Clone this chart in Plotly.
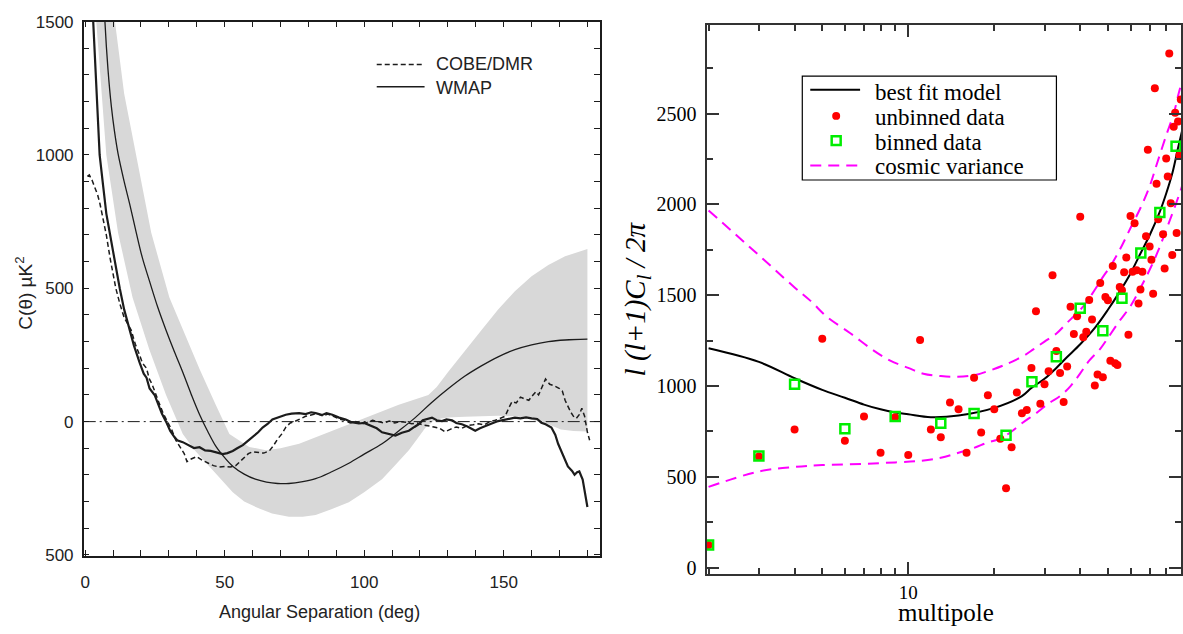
import plotly.graph_objects as go

# ---------------- Left panel: two-point angular correlation C(theta) ----------------
theta_wmap = [0.5, 1.5, 2.9, 4.0, 5.2, 6.5, 7.6, 9.3, 11.0, 12.4, 14.0, 16.0, 17.5, 19.5, 21.0, 22.0,
              23.1, 24.9, 26.0, 27.5, 29.0, 30.5, 32.0, 33.0, 35.0, 37.0, 39.0, 41.0, 43.0, 45.0,
              47.0, 49.3, 51.0, 52.9, 54.5, 56.5, 58.0, 60.0, 62.0, 63.6, 65.5, 67.1, 69.0, 71.9,
              74.0, 76.7, 79.0, 81.0, 82.6, 85.0, 86.5, 88.6, 91.0, 93.4, 95.5, 98.1, 100.0, 102.9,
              104.5, 106.4, 108.5, 111.2, 113.5, 116.0, 118.0, 119.5, 121.0, 122.5, 124.3, 126.0,
              127.9, 129.5, 131.5, 133.0, 135.0, 137.0, 139.8, 141.5, 143.3, 145.5, 148.0, 151.0,
              154.0, 156.0, 158.0, 160.0, 162.0, 163.5, 165.0, 167.1, 168.5, 169.5, 171.0, 173.0,
              174.5, 175.4, 176.3, 177.1, 178.3, 179.2, 180.0]
c_wmap = [2400, 1950, 1500, 1250, 1000, 880, 780, 680, 580, 500, 420, 343, 285, 222, 180, 165,
          124, 100, 70, 30, 0, -35, -58, -70, -77, -88, -99, -96, -108, -110,
          -115, -122, -118, -110, -100, -88, -75, -58, -40, -22, -8, 8, 15, 26,
          30, 32, 28, 35, 32, 25, 32, 26, 15, 8, -2, -7, -5, -16,
          -25, -40, -45, -52, -42, -34, -20, -10, 5, 10, 15, 5,
          2, 8, 5, -5, -10, -18, -34, -25, -16, -8, 2, 8,
          15, 12, 16, 12, 10, -4, -10, -22, -50, -83, -120, -168,
          -185, -199, -190, -187, -217, -270, -320]

theta_cobe = [0.8, 1.5, 2.5, 3.5, 4.5, 5.3, 6.5, 7.6, 9.0, 10.0, 11.0, 12.5, 14.0, 16.5, 18.0, 19.5,
              20.5, 22.0, 23.0, 24.0, 25.0, 26.5, 28.0, 29.5, 31.0, 32.5, 34.0, 35.5, 36.5, 38.0,
              40.0, 42.0, 44.0, 46.0, 48.0, 50.0, 52.0, 54.0, 55.5, 57.0, 58.5, 60.0, 62.0, 64.0,
              66.0, 67.5, 69.0, 70.5, 72.0, 73.5, 75.0, 77.0, 79.0, 81.0, 83.0, 85.0, 87.0, 89.0,
              91.0, 93.0, 95.0, 97.0, 99.0, 101.0, 103.0, 105.0, 107.0, 109.0, 111.0, 113.0, 115.0,
              117.0, 119.0, 121.0, 123.0, 125.0, 127.0, 129.0, 131.0, 133.0, 135.0, 137.0, 139.0,
              141.0, 143.0, 145.0, 147.0, 149.0, 150.5, 152.0, 153.0, 154.5, 156.0, 157.5, 159.0,
              160.5, 161.5, 162.5, 163.5, 165.0, 166.5, 168.0, 170.0, 171.0, 172.0, 173.0, 174.0,
              175.0, 176.0, 177.0, 178.0, 179.0, 180.0, 180.8]
c_cobe = [920, 925, 905, 880, 850, 818, 760, 700, 610, 560, 500, 440, 390, 343, 290, 250,
          220, 200, 160, 140, 110, 70, 30, 0, -30, -70, -95, -120, -150, -140,
          -131, -145, -155, -165, -170, -168, -170, -165, -150, -135, -120, -113, -115, -118,
          -110, -90, -65, -46, -20, -5, 0, 10, 20, 25, 30, 22, 28, 20,
          10, 5, -5, 0, -8, -3, 5, 0, -5, 2, -5, 0, -2,
          -8, -5, -12, -15, -20, -25, -38, -28, -20, -25, -15, -12,
          -8, -12, 0, 5, 15, 20, 55, 75, 70, 92, 85, 80,
          100, 112, 100, 125, 160, 140, 135, 124, 115, 80, 55, 36,
          20, 12, 25, 50, 20, -40, -70]

theta_model = [5.0, 6.0, 7.1, 8.2, 9.4, 10.5, 11.8, 14.0, 16.0, 18.3, 20.5, 23.1, 26.0, 29.0, 32.0,
               35.0, 38.0, 41.0, 44.0, 47.0, 50.0, 53.0, 57.0, 61.0, 65.0, 69.0, 73.0, 78.0, 82.6,
               88.0, 94.5, 100.0, 106.4, 112.0, 118.3, 124.0, 130.2, 136.0, 142.0, 148.0, 154.0,
               160.0, 166.0, 172.0, 180.0]
c_model = [2100, 1800, 1500, 1320, 1182, 1090, 1005, 900, 815, 710, 615, 526, 430, 343, 262,
           185, 103, 27, -38, -95, -135, -168, -197, -216, -227, -232, -232, -225, -214,
           -190, -156, -122, -83, -38, 15, 70, 124, 170, 209, 243, 270,
           288, 300, 306, 309]

# shaded range around the model
theta_band_hi = [1.0, 4.0, 7.0, 10.7, 14.0, 18.3, 23.7, 30.2, 35.0, 41.0, 46.8, 51.7, 58.8, 64.8,
                 70.0, 76.7, 88.6, 100.4, 112.4, 123.0, 126.0, 130.0, 136.0, 142.0, 148.0, 154.0,
                 160.0, 166.0, 172.0, 180.0]
c_band_hi = [2600, 2100, 1850, 1500, 1230, 1000, 708, 465, 343, 197, 63, -46, -95, -107,
             -100, -83, -34, 15, 63, 100, 130, 185, 265, 343, 420, 489,
             545, 587, 620, 647]
theta_band_lo = [2.0, 4.0, 7.6, 11.8, 17.0, 23.0, 29.0, 35.0, 39.5, 44.5, 52.9, 57.0, 62.4, 67.0,
                 73.0, 78.0, 82.6, 88.0, 94.5, 100.0, 106.4, 111.0, 116.0, 119.0, 122.0, 125.5,
                 130.0, 136.0, 142.0, 148.0, 154.0, 157.6, 162.0, 166.0, 170.5, 175.0, 180.0]
c_band_lo = [2000, 1500, 1000, 708, 465, 270, 100, -46, -110, -168, -265, -300, -326, -345,
             -357, -357, -350, -330, -302, -265, -216, -165, -107, -65, -22, 8,
             15, 18, 20, 22, 20, 15, 0, -10, -30, -35, -37]

zero_level = 0

theta_major = [0, 50, 100, 150]
theta_minor = [t for t in range(10, 181, 10) if t % 50 != 0]
corr_major = [-500, 0, 500, 1000, 1500]
corr_major_text = ["500", "0", "500", "1000", "1500"]
corr_minor = [v for v in range(-400, 1500, 100) if v % 500 != 0]

# ---------------- Right panel: angular power spectrum ----------------
ell_unbinned = [2, 3, 4, 5, 6, 7, 8, 9, 10, 11, 12, 13, 14, 15, 16, 17, 18, 19, 20,
                21, 22, 23, 24, 25, 26, 27, 28, 29, 30, 31, 32, 33, 34, 35, 36, 37, 38, 39, 40,
                41, 42, 43, 44, 45, 46, 47, 48, 49, 50, 51, 52, 53, 54, 55, 56, 57, 58, 59, 60,
                61, 62, 63, 64, 65, 66, 68, 69, 70, 71, 72, 73, 74, 75, 78, 79, 80, 81, 82, 83,
                84, 85, 86, 87, 88, 89, 90]
cl_unbinned = [125, 613, 761, 1260, 699, 832, 633, 829, 620, 1253, 761, 718, 909, 873, 633, 1046, 745, 950, 873,
               710, 437, 663, 965, 851, 869, 1100, 1412, 903, 1010, 1081, 1610, 1193, 1072, 913, 1108, 1437, 1286, 1384, 1932,
               1269, 1299, 1474, 1367, 1003, 1064, 1568, 1048, 1490, 1473, 1140, 1661, 1125, 1116, 1546, 1528, 1627, 1708, 1282, 1936,
               1629, 1896, 1638, 1455, 1531, 1630, 1825, 2301, 1768, 1695, 1508, 2639, 2114, 1918, 1836, 1647, 2253, 2153, 2831, 2007,
               1722, 2427, 2505, 1843, 2457, 2270, 2577]

ell_binned = [2, 3, 4, 6, 9, 13, 17, 22, 27.1, 33, 40, 48, 56, 65.2, 76, 86.6]
cl_binned = [125, 615, 1010, 765, 832, 796, 849, 730, 1024, 1161, 1428, 1305, 1483, 1733, 1955, 2320]

ell_fit = [2, 3, 4, 5, 6, 7, 8, 9, 10, 12, 15, 20, 25, 27, 30, 33, 36, 40, 45, 50, 55, 60, 65, 70,
           76, 80, 84, 88, 92]
cl_fit = [1208, 1133, 1043, 979, 936, 898, 872, 855, 845, 829, 838, 880, 945, 990, 1040, 1100, 1160,
          1230, 1320, 1420, 1520, 1620, 1730, 1830, 1960, 2060, 2170, 2310, 2440]

ell_cv_hi = [2, 3, 4, 4.55, 5.2, 6.27, 7.5, 8.65, 10, 11.3, 13, 14.8, 17, 19.3, 21.5, 25.3, 27.4, 30,
             33.1, 35.8, 39.8, 42, 45, 48, 51, 55, 60, 65, 70, 74, 80, 85, 89, 92]
cv_upper = [1967, 1720, 1543, 1469, 1380, 1291, 1200, 1140, 1100, 1068, 1055, 1051, 1060, 1086, 1113,
            1166, 1202, 1245, 1291, 1345, 1416, 1460, 1530, 1600, 1660, 1750, 1870, 1980, 2100, 2217,
            2380, 2500, 2627, 2700]
ell_cv_lo = [2, 3, 4, 5, 7, 9, 11, 13, 15, 17, 19, 21, 23, 25, 28, 31, 34, 37, 40, 43, 47, 50, 55,
             60, 65, 70, 75, 80, 85, 90, 92]
cv_lower = [445, 530, 555, 565, 572, 580, 588, 605, 633, 660, 690, 710, 750, 795, 850, 905, 945, 1000,
            1070, 1140, 1205, 1265, 1360, 1440, 1540, 1640, 1745, 1860, 1970, 2080, 2130]

ell_major = [10]
ell_minor = [2, 3, 4, 5, 6, 7, 8, 9, 20, 30, 40, 50, 60, 70, 80, 90]
power_major = [0, 500, 1000, 1500, 2000, 2500]
power_minor = [250, 750, 1250, 1750, 2250, 2750]

# ---------------- page geometry helpers (pixels -> paper) ----------------
W, H = 1183, 634


def px(x):
    return x / W


def py(y):
    return 1 - y / H


INK = "#1c1c1c"
TXT = "#222222"
SANS = "Liberation Sans Narrow, Liberation Sans, Arial, sans-serif"
SERIF = "Liberation Serif, Times New Roman, serif"
BAND = "#d8d8d8"
MAGENTA = "#ff00ff"
RED = "#ff0000"
GREEN = "#00ee00"

fig = go.Figure()

# shaded band (lower edge, then upper edge filled down to it)
fig.add_trace(go.Scatter(x=theta_band_lo, y=c_band_lo, mode="lines", line=dict(width=0, color=BAND),
                         xaxis="x", yaxis="y", showlegend=False, hoverinfo="skip"))
fig.add_trace(go.Scatter(x=theta_band_hi, y=c_band_hi, mode="lines", line=dict(width=0, color=BAND),
                         fill="tonexty", fillcolor=BAND, xaxis="x", yaxis="y", showlegend=False,
                         hoverinfo="skip"))
fig.add_trace(go.Scatter(x=theta_model, y=c_model, mode="lines", line=dict(color=INK, width=1.3, shape="spline"),
                         xaxis="x", yaxis="y", showlegend=False))
fig.add_trace(go.Scatter(x=theta_cobe, y=c_cobe, mode="lines", name="COBE/DMR",
                         line=dict(color=INK, width=1.5, dash="5px,3px"), xaxis="x", yaxis="y",
                         showlegend=False))
fig.add_trace(go.Scatter(x=theta_wmap, y=c_wmap, mode="lines", name="WMAP",
                         line=dict(color=INK, width=2.2), xaxis="x", yaxis="y", showlegend=False))

# right panel traces
fig.add_trace(go.Scatter(x=ell_cv_hi, y=cv_upper, mode="lines", name="cosmic variance",
                         line=dict(color=MAGENTA, width=2, dash="11px,7px", shape="spline"),
                         xaxis="x2", yaxis="y2", showlegend=False))
fig.add_trace(go.Scatter(x=ell_cv_lo, y=cv_lower, mode="lines",
                         line=dict(color=MAGENTA, width=2, dash="11px,7px", shape="spline"),
                         xaxis="x2", yaxis="y2", showlegend=False))
fig.add_trace(go.Scatter(x=ell_fit, y=cl_fit, mode="lines", name="best fit model",
                         line=dict(color="black", width=2, shape="spline"),
                         xaxis="x2", yaxis="y2", showlegend=False))
fig.add_trace(go.Scatter(x=ell_unbinned, y=cl_unbinned, mode="markers", name="unbinned data",
                         marker=dict(symbol="circle", size=8, color=RED, line=dict(width=0)),
                         xaxis="x2", yaxis="y2", showlegend=False))
fig.add_trace(go.Scatter(x=ell_binned, y=cl_binned, mode="markers", name="binned data",
                         marker=dict(symbol="square-open", size=9, color=GREEN, line=dict(width=2.5, color=GREEN)),
                         xaxis="x2", yaxis="y2", showlegend=False))

shapes = [
    # zero reference line of the correlation panel
    dict(type="line", xref="x domain", yref="y", x0=0, x1=1, y0=zero_level, y1=zero_level,
         line=dict(color=INK, width=1, dash="12px,4px,2px,4px"), layer="above"),
    # left legend samples
    dict(type="line", xref="paper", yref="paper", x0=px(375), x1=px(423), y0=py(57), y1=py(57),
         line=dict(color=INK, width=1.5, dash="5px,3px")),
    dict(type="line", xref="paper", yref="paper", x0=px(375), x1=px(423), y0=py(80), y1=py(80),
         line=dict(color=INK, width=1.5)),
    # right legend box and samples
    dict(type="rect", xref="paper", yref="paper", x0=px(802), x1=px(1057), y0=py(69), y1=py(176),
         line=dict(color="black", width=1.2), fillcolor="white", layer="above"),
    dict(type="line", xref="paper", yref="paper", x0=px(810), x1=px(860), y0=py(83), y1=py(83),
         line=dict(color="black", width=2), layer="above"),
    dict(type="circle", xref="paper", yref="paper", x0=px(832), x1=px(840), y0=py(106), y1=py(114),
         line=dict(color=RED, width=0), fillcolor=RED, layer="above"),
    dict(type="rect", xref="paper", yref="paper", x0=px(831.5), x1=px(840.5), y0=py(131), y1=py(140),
         line=dict(color=GREEN, width=2.5), fillcolor="rgba(0,0,0,0)", layer="above"),
    dict(type="line", xref="paper", yref="paper", x0=px(810), x1=px(860), y0=py(161), y1=py(161),
         line=dict(color=MAGENTA, width=2, dash="11px,7px"), layer="above"),
]

annotations = [
    dict(text="C(θ) µK<sup>2</sup>", xref="paper", yref="paper", x=px(21), y=py(292), textangle=-90,
         showarrow=False, font=dict(family=SANS, size=19, color=TXT), xanchor="center", yanchor="middle"),
    dict(text="Angular Separation (deg)", xref="paper", yref="paper", x=px(318), y=py(621),
         showarrow=False, font=dict(family=SANS, size=18, color=TXT), xanchor="center", yanchor="middle"),
    dict(text="COBE/DMR", xref="paper", yref="paper", x=px(432), y=py(57), showarrow=False,
         font=dict(family=SANS, size=18, color=TXT), xanchor="left", yanchor="middle"),
    dict(text="WMAP", xref="paper", yref="paper", x=px(432), y=py(81), showarrow=False,
         font=dict(family=SANS, size=18, color=TXT), xanchor="left", yanchor="middle"),
    dict(text="<i>l (l+1)C<sub>l</sub> / 2π</i>", xref="paper", yref="paper", x=px(636), y=py(298),
         textangle=-90, showarrow=False, font=dict(family=SERIF, size=29, color="black"),
         xanchor="center", yanchor="middle"),
    # axis label sits on the lower page edge, its descender running to the border
    dict(text="multipole", xref="paper", yref="paper", x=px(946), y=py(636), showarrow=False,
         font=dict(family=SERIF, size=25, color="black"), xanchor="center", yanchor="bottom",
         borderpad=0),
]
# legend rows of the spectrum panel: (label, baseline in px)
legend_rows = [("best fit model", 95), ("unbinned data", 120.5), ("binned data", 146), ("cosmic variance", 171.5)]
for label, base in legend_rows:
    annotations.append(dict(text=label, xref="paper", yref="paper", x=px(874), y=py(base + 5.0),
                            showarrow=False, font=dict(family=SERIF, size=23, color="black"),
                            xanchor="left", yanchor="bottom", borderpad=0))

fig.update_layout(
    width=W, height=H,
    margin=dict(l=0, r=0, t=0, b=0),
    paper_bgcolor="white", plot_bgcolor="white",
    showlegend=False,
    shapes=shapes,
    annotations=annotations,
    xaxis=dict(domain=[px(81), px(599)], range=[-0.5, 184.5], anchor="y",
               showline=True, linecolor=INK, linewidth=1.5, mirror="ticks",
               ticks="inside", ticklen=6, tickwidth=1, tickcolor=INK,
               tickmode="array", tickvals=theta_major, ticktext=[str(t) for t in theta_major],
               minor=dict(tickmode="array", tickvals=theta_minor, ticks="inside", ticklen=6,
                          tickwidth=1, tickcolor=INK, showgrid=False),
               tickfont=dict(family=SANS, size=17, color=TXT), ticklabelstandoff=10,
               showgrid=False, zeroline=False),
    yaxis=dict(domain=[py(563), py(13)], range=[-504, 1500], anchor="x",
               showline=True, linecolor=INK, linewidth=1.5, mirror="ticks",
               ticks="inside", ticklen=6, tickwidth=1, tickcolor=INK,
               tickmode="array", tickvals=corr_major, ticktext=corr_major_text,
               minor=dict(tickmode="array", tickvals=corr_minor, ticks="inside", ticklen=6,
                          tickwidth=1, tickcolor=INK, showgrid=False),
               tickfont=dict(family=SANS, size=17, color=TXT), ticklabelstandoff=5,
               showgrid=False, zeroline=False),
    xaxis2=dict(domain=[px(706), px(1182)], type="log", range=[0.2941, 1.9549], anchor="y2",
                showline=True, linecolor="#333", linewidth=2, mirror="ticks",
                ticks="inside", ticklen=12, tickwidth=1.5, tickcolor="#333",
                tickmode="array", tickvals=ell_major, ticktext=[str(v) for v in ell_major],
                minor=dict(tickmode="array", tickvals=ell_minor, ticks="inside", ticklen=6,
                           tickwidth=1.5, tickcolor="#333", showgrid=False),
                tickfont=dict(family=SERIF, size=19, color="black"), ticklabelstandoff=0,
                showgrid=False, zeroline=False),
    yaxis2=dict(domain=[py(582), py(16)], range=[-37, 2990], anchor="x2",
                showline=True, linecolor="#333", linewidth=2, mirror="ticks",
                ticks="inside", ticklen=12, tickwidth=1.5, tickcolor="#333",
                tickmode="array", tickvals=power_major, ticktext=[str(v) for v in power_major],
                minor=dict(tickmode="array", tickvals=power_minor, ticks="inside",
                           ticklen=6, tickwidth=1.5, tickcolor="#333", showgrid=False),
                tickfont=dict(family=SERIF, size=20, color="black"), ticklabelstandoff=4,
                showgrid=False, zeroline=False),
)

fig.write_html("out.html")
